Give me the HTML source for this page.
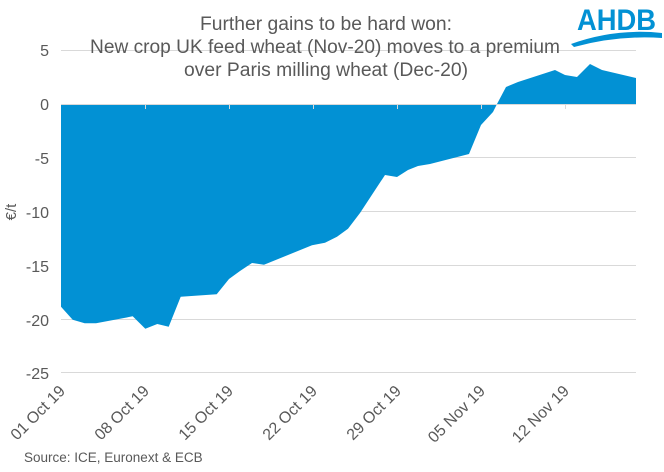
<!DOCTYPE html>
<html><head><meta charset="utf-8"><style>
html,body{margin:0;padding:0;background:#fff;}
svg{display:block;font-family:"Liberation Sans",Arial,sans-serif;}
</style></head><body>
<svg width="664" height="472" viewBox="0 0 664 472" xmlns="http://www.w3.org/2000/svg">
<g stroke="#d9d9d9" stroke-width="1">
<line x1="61" y1="50.5" x2="636" y2="50.5"/>
<line x1="61" y1="157.5" x2="636" y2="157.5"/>
<line x1="61" y1="211.5" x2="636" y2="211.5"/>
<line x1="61" y1="265.5" x2="636" y2="265.5"/>
<line x1="61" y1="319.5" x2="636" y2="319.5"/>
<line x1="61" y1="372.5" x2="636" y2="372.5"/>
</g>
<polygon fill="#0291d4" points="61,104 61,306.7 72.7,319.7 84.7,323.3 96,323.3 132.7,316.3 145.3,328.7 157.3,324 168.7,326.7 180.7,296.7 216.7,294.3 229,279 240,271 252,263 264,264.7 312,245.3 325,242.7 337,236.7 348,228.7 360,213 385,175 397,177 408,170 418,166 430,164 469,154 481,125 493,112 497,104 506,87 518,82 555,70 565,75 577,77 590,64 602,70 636,78 636,104"/>
<g stroke="#d9d9d9" stroke-width="1">
<line x1="61" y1="104.5" x2="636" y2="104.5"/>
<line x1="145.5" y1="104" x2="145.5" y2="109"/>
<line x1="229.5" y1="104" x2="229.5" y2="109"/>
<line x1="313.5" y1="104" x2="313.5" y2="109"/>
<line x1="397.5" y1="104" x2="397.5" y2="109"/>
<line x1="481.5" y1="104" x2="481.5" y2="109"/>
<line x1="565.5" y1="104" x2="565.5" y2="109"/>
</g>
<g fill="#595959" font-size="16" text-anchor="end">
<text x="49" y="56">5</text>
<text x="49" y="110">0</text>
<text x="49" y="164">-5</text>
<text x="49" y="218">-10</text>
<text x="49" y="272">-15</text>
<text x="49" y="326">-20</text>
<text x="49" y="379">-25</text>
</g>
<text x="0" y="0" fill="#595959" font-size="15" text-anchor="middle" transform="translate(16,212) rotate(-90)">€/t</text>
<g fill="#595959" font-size="16" text-anchor="end">
<text transform="translate(66,392) rotate(-45)">01 Oct 19</text>
<text transform="translate(150,392) rotate(-45)">08 Oct 19</text>
<text transform="translate(234,392) rotate(-45)">15 Oct 19</text>
<text transform="translate(318,392) rotate(-45)">22 Oct 19</text>
<text transform="translate(402,392) rotate(-45)">29 Oct 19</text>
<text transform="translate(486,392) rotate(-45)">05 Nov 19</text>
<text transform="translate(570,392) rotate(-45)">12 Nov 19</text>
</g>
<g fill="#595959" font-size="19" text-anchor="middle">
<text x="326" y="30" textLength="252" lengthAdjust="spacingAndGlyphs">Further gains to be hard won:</text>
<text x="325" y="53" textLength="470" lengthAdjust="spacingAndGlyphs">New crop UK feed wheat (Nov-20) moves to a premium</text>
<text x="326" y="76" textLength="284" lengthAdjust="spacingAndGlyphs">over Paris milling wheat (Dec-20)</text>
</g>
<text x="24" y="462" fill="#595959" font-size="13.5">Source: ICE, Euronext &amp; ECB</text>
<text x="616.5" y="30" fill="#0291d4" font-size="30" font-weight="bold" text-anchor="middle" textLength="79" lengthAdjust="spacingAndGlyphs">AHDB</text>
<path d="M571 44 Q615 28 662 33 L662 38 Q618 35 574 47 Z" fill="#0291d4"/>
</svg>
</body></html>
